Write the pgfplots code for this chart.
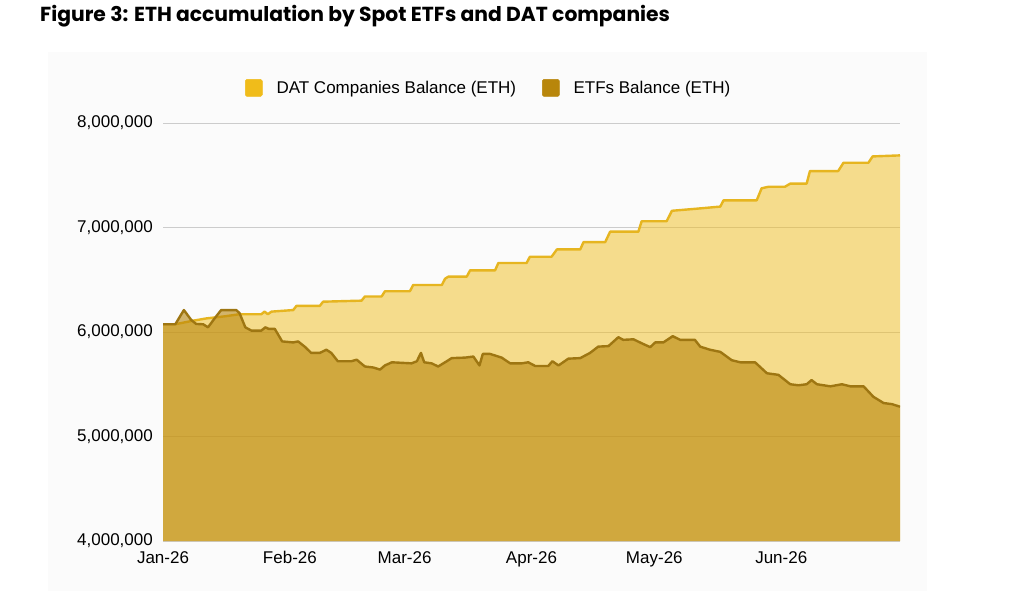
\documentclass[border=0pt]{standalone}
\usepackage{fontspec}
\setmainfont{Liberation Sans}
\newfontfamily\titlefont{Poppins}
\usepackage{pgfplots}
\pgfplotsset{compat=1.18}
\definecolor{datline}{HTML}{E6B520}
\definecolor{datfill}{HTML}{F0BE1E}
\definecolor{etfline}{HTML}{9E7612}
\definecolor{etffill}{HTML}{B8860B}
\definecolor{datkey}{HTML}{F0BC1A}
\definecolor{etfkey}{HTML}{B8860B}
\definecolor{panelbg}{HTML}{FBFBFB}
\definecolor{gridc}{HTML}{CCCCCC}
\begin{document}
\begin{tikzpicture}
\useasboundingbox (0,0) rectangle (1024pt,591pt);
\fill[panelbg] (48pt,0pt) rectangle (927pt,539pt);
\node[anchor=base west, inner sep=0pt, font=\titlefont\bfseries\fontsize{20.3}{24}\selectfont] at (40pt,569pt) {Figure 3: ETH accumulation by Spot ETFs and DAT companies};
\begin{axis}[
  at={(163pt,50pt)}, anchor=south west,
  scale only axis, width=737pt, height=418pt,
  xmin=0, xmax=180, ymin=4000000, ymax=8000000,
  axis line style={draw=none},
  major tick length=0pt,
  xtick={0,31,59,90,120,151},
  xticklabels={Jan-26,Feb-26,Mar-26,Apr-26,May-26,Jun-26},
  ytick={4000000,5000000,6000000,7000000,8000000},
  scaled y ticks=false,
  /pgf/number format/fixed,
  /pgf/number format/1000 sep={,},
  /pgf/number format/assume math mode=true,
  tick label style={font=\fontsize{17}{20}\selectfont, inner sep=0pt},
  yticklabel style={xshift=-10pt},
  xticklabel style={yshift=-10pt},
  ymajorgrids, grid style={gridc, line width=0.9pt},
  legend columns=2,
  legend style={at={(0.442,1.084)}, anchor=center, draw=none, fill=none,
    font=\fontsize{17}{20}\selectfont, column sep=12pt,
    /tikz/every even column/.append style={column sep=24pt}},
  legend image code/.code={\fill[#1, rounded corners=1.5pt] (0pt,-8.5pt) rectangle (17pt,8.5pt);},
]
\addplot[draw=none, fill=datfill, fill opacity=0.5, forget plot] coordinates {
(0,6074000)(3,6074000)(6.9,6105000)(10.6,6130000)(15.1,6150000)(18.7,6170000)(24.0,6170000)(24.8,6195000)(25.6,6170000)(26.5,6195000)(31.8,6210000)(32.6,6250000)(38.3,6250000)(39.1,6290000)(48.5,6300000)(49.3,6340000)(53.4,6340000)(54.2,6390000)(60.3,6390000)(61.1,6450000)(68.1,6450000)(68.9,6510000)(69.7,6530000)(74.2,6530000)(75.0,6590000)(81.1,6590000)(81.9,6660000)(88.8,6660000)(89.6,6720000)(94.9,6720000)(96.2,6790000)(101.9,6790000)(102.7,6860000)(108.0,6860000)(109.2,6960000)(116.1,6960000)(116.9,7060000)(123.0,7060000)(124.3,7160000)(130.4,7180000)(136.1,7200000)(136.9,7260000)(145.0,7260000)(146.2,7375000)(147.9,7390000)(151.9,7390000)(153.2,7420000)(157.2,7420000)(158.0,7540000)(164.9,7540000)(166.2,7620000)(172.3,7620000)(173.3,7680000)(180,7690000)
} \closedcycle;
\addplot[datline, line width=2.4pt, line join=round, forget plot] coordinates {
(0,6074000)(3,6074000)(6.9,6105000)(10.6,6130000)(15.1,6150000)(18.7,6170000)(24.0,6170000)(24.8,6195000)(25.6,6170000)(26.5,6195000)(31.8,6210000)(32.6,6250000)(38.3,6250000)(39.1,6290000)(48.5,6300000)(49.3,6340000)(53.4,6340000)(54.2,6390000)(60.3,6390000)(61.1,6450000)(68.1,6450000)(68.9,6510000)(69.7,6530000)(74.2,6530000)(75.0,6590000)(81.1,6590000)(81.9,6660000)(88.8,6660000)(89.6,6720000)(94.9,6720000)(96.2,6790000)(101.9,6790000)(102.7,6860000)(108.0,6860000)(109.2,6960000)(116.1,6960000)(116.9,7060000)(123.0,7060000)(124.3,7160000)(130.4,7180000)(136.1,7200000)(136.9,7260000)(145.0,7260000)(146.2,7375000)(147.9,7390000)(151.9,7390000)(153.2,7420000)(157.2,7420000)(158.0,7540000)(164.9,7540000)(166.2,7620000)(172.3,7620000)(173.3,7680000)(180,7690000)
};
\addplot[draw=none, fill=etffill, fill opacity=0.6, forget plot] coordinates {
(0,6074000)(3,6074000)(5.1,6210000)(6.9,6115000)(8.1,6077000)(9.8,6074000)(11.0,6045000)(12.6,6130000)(14.2,6210000)(17.9,6210000)(18.7,6180000)(20.1,6045000)(21.6,6013000)(24.0,6013000)(25.0,6045000)(25.8,6030000)(27.3,6030000)(29.1,5910000)(31.8,5900000)(33.0,5910000)(34.6,5860000)(36.2,5800000)(38.3,5800000)(39.9,5830000)(41.1,5800000)(42.7,5720000)(46.0,5720000)(47.3,5735000)(49.3,5670000)(51.4,5660000)(53.0,5640000)(54.2,5680000)(55.9,5710000)(60.7,5700000)(62.0,5720000)(63.0,5800000)(63.8,5710000)(65.6,5700000)(67.2,5670000)(69.3,5720000)(70.5,5750000)(73.8,5755000)(75.8,5765000)(77.3,5680000)(78.1,5790000)(79.9,5790000)(82.7,5755000)(84.8,5700000)(87.6,5700000)(89.2,5710000)(90.9,5675000)(94.1,5675000)(95.1,5720000)(96.6,5680000)(99.0,5745000)(101.9,5750000)(104.3,5800000)(106.3,5860000)(108.8,5865000)(111.2,5950000)(112.4,5925000)(114.9,5930000)(117.3,5885000)(119.0,5855000)(120.2,5900000)(122.2,5900000)(124.5,5960000)(126.3,5925000)(129.9,5925000)(131.2,5860000)(133.6,5830000)(136.1,5810000)(138.9,5730000)(141.0,5710000)(144.6,5710000)(147.5,5605000)(150.3,5590000)(153.2,5500000)(155.2,5490000)(157.2,5500000)(158.4,5540000)(159.7,5500000)(163.0,5480000)(165.8,5500000)(167.9,5480000)(171.1,5480000)(173.5,5380000)(176.0,5320000)(178.0,5310000)(180,5285000)
} \closedcycle;
\addplot[etfline, line width=2.4pt, line join=round, forget plot] coordinates {
(0,6074000)(3,6074000)(5.1,6210000)(6.9,6115000)(8.1,6077000)(9.8,6074000)(11.0,6045000)(12.6,6130000)(14.2,6210000)(17.9,6210000)(18.7,6180000)(20.1,6045000)(21.6,6013000)(24.0,6013000)(25.0,6045000)(25.8,6030000)(27.3,6030000)(29.1,5910000)(31.8,5900000)(33.0,5910000)(34.6,5860000)(36.2,5800000)(38.3,5800000)(39.9,5830000)(41.1,5800000)(42.7,5720000)(46.0,5720000)(47.3,5735000)(49.3,5670000)(51.4,5660000)(53.0,5640000)(54.2,5680000)(55.9,5710000)(60.7,5700000)(62.0,5720000)(63.0,5800000)(63.8,5710000)(65.6,5700000)(67.2,5670000)(69.3,5720000)(70.5,5750000)(73.8,5755000)(75.8,5765000)(77.3,5680000)(78.1,5790000)(79.9,5790000)(82.7,5755000)(84.8,5700000)(87.6,5700000)(89.2,5710000)(90.9,5675000)(94.1,5675000)(95.1,5720000)(96.6,5680000)(99.0,5745000)(101.9,5750000)(104.3,5800000)(106.3,5860000)(108.8,5865000)(111.2,5950000)(112.4,5925000)(114.9,5930000)(117.3,5885000)(119.0,5855000)(120.2,5900000)(122.2,5900000)(124.5,5960000)(126.3,5925000)(129.9,5925000)(131.2,5860000)(133.6,5830000)(136.1,5810000)(138.9,5730000)(141.0,5710000)(144.6,5710000)(147.5,5605000)(150.3,5590000)(153.2,5500000)(155.2,5490000)(157.2,5500000)(158.4,5540000)(159.7,5500000)(163.0,5480000)(165.8,5500000)(167.9,5480000)(171.1,5480000)(173.5,5380000)(176.0,5320000)(178.0,5310000)(180,5285000)
};
\addlegendimage{datkey}
\addlegendentry{DAT Companies Balance (ETH)}
\addlegendimage{etfkey}
\addlegendentry{ETFs Balance (ETH)}
\end{axis}
\end{tikzpicture}
\end{document}
